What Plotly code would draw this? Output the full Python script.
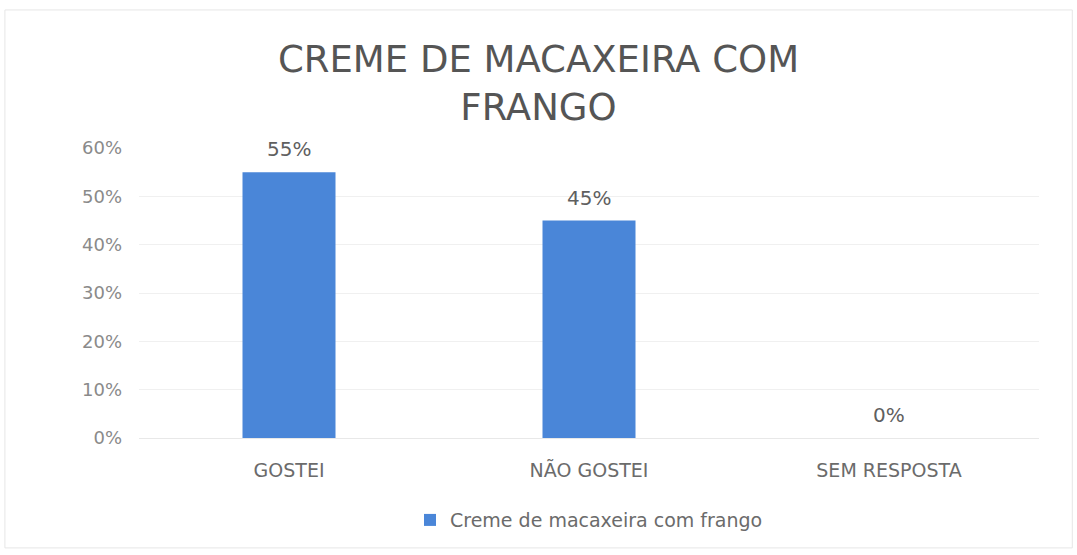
import plotly.graph_objects as go

categories = ["GOSTEI", "NÃO GOSTEI", "SEM RESPOSTA"]
values = [0.55, 0.45, 0.0]
labels = ["55%", "45%", "0%"]
series_name = "Creme de macaxeira com frango"
title_text = "CREME DE MACAXEIRA COM<br>FRANGO"
ytick_vals = [0, 0.1, 0.2, 0.3, 0.4, 0.5, 0.6]
ytick_text = ["0%", "10%", "20%", "30%", "40%", "50%", "60%"]

font_family = "DejaVu Sans, Open Sans, sans-serif"

fig = go.Figure()
fig.add_trace(go.Bar(
    x=categories, y=values, name=series_name,
    marker=dict(color="#4a86d8", line=dict(width=0)),
    showlegend=True,
))

for cat, val, lab in zip(categories, values, labels):
    fig.add_annotation(x=cat, y=val, text=lab, showarrow=False,
                       yanchor="middle", yshift=23,
                       font=dict(size=20, color="#5f5f5f", family=font_family))

fig.update_layout(
    width=1077, height=555,
    paper_bgcolor="white", plot_bgcolor="white",
    margin=dict(l=139, r=38, t=148, b=117),
    bargap=0.69,
    title=dict(text=title_text, x=0.5, xanchor="center", y=0.87, yanchor="top",
               font=dict(size=37, color="#555555", family=font_family)),
    font=dict(family=font_family, color="#6b6b6b"),
    xaxis=dict(showgrid=False, showline=True, linecolor="#e8e8e8", linewidth=1,
               ticks="", ticklabelstandoff=15,
               tickfont=dict(size=19, color="#6b6b6b")),
    yaxis=dict(range=[0, 0.6], tickvals=ytick_vals, ticktext=ytick_text,
               showgrid=True, gridcolor="#f0f0f0", gridwidth=1, zeroline=False,
               ticks="", ticklabelstandoff=16,
               tickfont=dict(size=18, color="#8a8a8a")),
    legend=dict(orientation="h", x=0.5, xanchor="center", y=-0.283, yanchor="middle",
                font=dict(size=19, color="#6b6b6b")),
    shapes=[dict(type="rect", xref="paper", yref="paper", x0=-0.149, x1=1.037,
                 y0=-0.379, y1=1.476, line=dict(color="#e6e6e6", width=1))],
)

fig.write_html("out.html", config={"displayModeBar": False},
               post_script="document.body.style.margin='0';")
